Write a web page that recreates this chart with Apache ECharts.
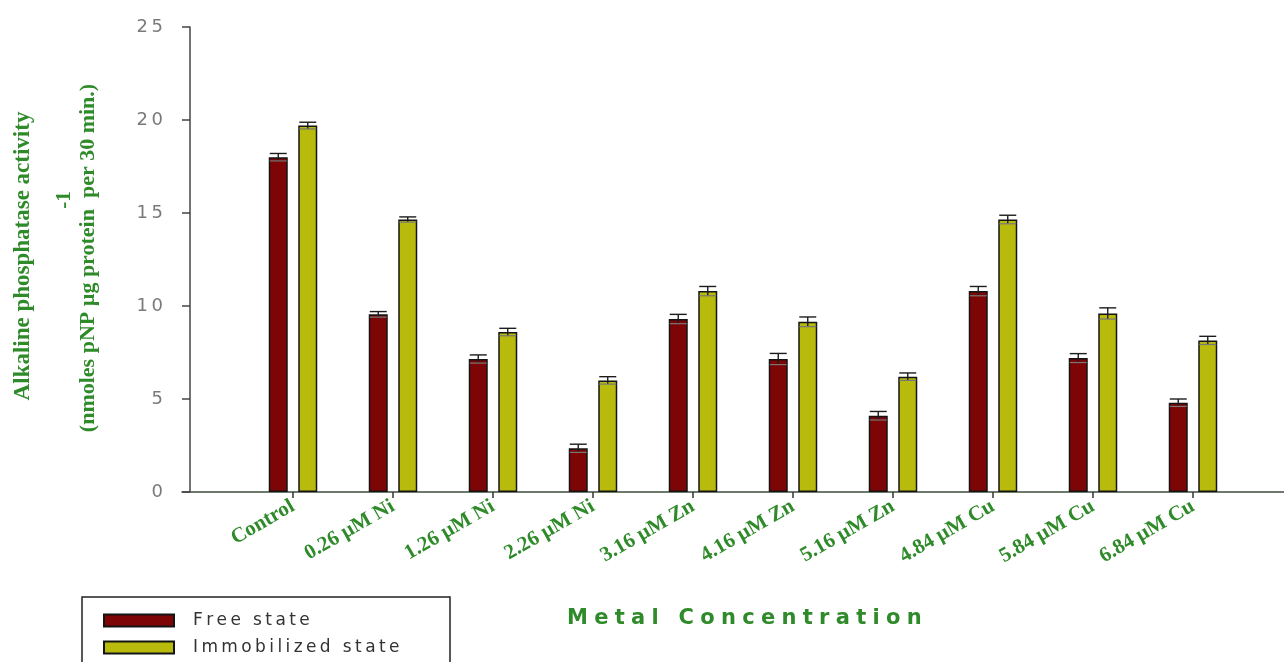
<!DOCTYPE html>
<html>
<head>
<meta charset="utf-8">
<script src="https://cdn.jsdelivr.net/npm/echarts@6/dist/echarts.min.js"></script>
<style>
  html, body { margin: 0; padding: 0; background: #ffffff; }
  #chart { width: 1284px; height: 662px; }
</style>
</head>
<body>
<div id="chart"></div>
<script>
// Treatments along the x axis
const categories = ['Control', '0.26 µM Ni', '1.26 µM Ni', '2.26 µM Ni', '3.16 µM Zn',
  '4.16 µM Zn', '5.16 µM Zn', '4.84 µM Cu', '5.84 µM Cu', '6.84 µM Cu'];

// Alkaline phosphatase activity, mean values
const freeState = [18.0, 9.55, 7.15, 2.35, 9.3, 7.15, 4.1, 10.8, 7.2, 4.8];
const immobilizedState = [19.7, 14.65, 8.6, 6.0, 10.8, 9.15, 6.2, 14.65, 9.6, 8.15];

// Error (± half range of each error bar)
const freeErr = [0.2, 0.15, 0.22, 0.22, 0.25, 0.3, 0.23, 0.25, 0.24, 0.2];
const immobilizedErr = [0.18, 0.14, 0.2, 0.2, 0.25, 0.26, 0.2, 0.23, 0.3, 0.22];

// Y axis ticks
const yTicks = [0, 5, 10, 15, 20, 25];

const seriesNames = ['Free state', 'Immobilized state'];

const BAR_W = 19;
const BAR_GAP_PX = 10.5;
const GREEN = '#2f8a2a';
const spaced = (s, sep) => s.split('').join(sep);

const chart = echarts.init(document.getElementById('chart'), null, { renderer: 'canvas' });

function errorSeries(means, errs, side) {
  const offset = side * (BAR_W + BAR_GAP_PX) / 2;
  return {
    type: 'custom',
    xAxisIndex: 1,
    yAxisIndex: 1,
    silent: true,
    z: 5,
    data: means.map((m, i) => [i, m, errs[i]]),
    encode: { x: 0, y: 1 },
    renderItem: function (params, api) {
      const i = api.value(0), m = api.value(1), e = api.value(2);
      const hi = api.coord([i, m + e]);
      const lo = api.coord([i, m - e]);
      const x = hi[0] + offset;
      const cap = 8.5;
      const st = { stroke: '#1c1c1c', lineWidth: 1.4 };
      return {
        type: 'group',
        children: [
          { type: 'line', shape: { x1: x, y1: hi[1], x2: x, y2: lo[1] }, style: st },
          { type: 'line', shape: { x1: x - cap, y1: hi[1], x2: x + cap, y2: hi[1] }, style: st },
          { type: 'line', shape: { x1: x - cap, y1: lo[1], x2: x + cap, y2: lo[1] }, style: { stroke: '#777', lineWidth: 1.2 } }
        ]
      };
    }
  };
}

const option = {
  backgroundColor: '#ffffff',
  animation: false,
  grid: [
    { left: 182, right: 0, top: 27, bottom: 170 },
    { left: 243, width: 1000, top: 27, bottom: 170 }
  ],
  xAxis: [
    {
      type: 'value', gridIndex: 0, min: 0, max: 1,
      axisLine: { show: true, lineStyle: { color: '#3d4d3d', width: 1.5 } },
      axisTick: { show: false }, axisLabel: { show: false }, splitLine: { show: false }
    },
    {
      type: 'category', gridIndex: 1, data: categories,
      axisLine: { show: false },
      axisTick: { show: true, alignWithLabel: true, length: 6, lineStyle: { color: '#333', width: 1.5 } },
      axisLabel: {
        rotate: 30, margin: 13, interval: 0,
        fontFamily: 'Liberation Serif', fontWeight: 'bold', fontSize: 21, color: GREEN
      },
      splitLine: { show: false }
    }
  ],
  yAxis: [
    {
      type: 'value', gridIndex: 0, offset: -8,
      min: yTicks[0], max: yTicks[yTicks.length - 1], interval: 5,
      axisLine: { show: true, lineStyle: { color: '#444', width: 1.5 } },
      axisTick: { show: true, length: 8, lineStyle: { color: '#444', width: 1.5 } },
      axisLabel: {
        margin: 27, fontFamily: 'DejaVu Sans', fontSize: 18, color: '#7a7a7a',
        formatter: v => spaced(String(v), '\u2009')
      },
      splitLine: { show: false }
    },
    {
      type: 'value', gridIndex: 1, min: yTicks[0], max: yTicks[yTicks.length - 1], show: false
    }
  ],
  legend: {
    data: seriesNames,
    orient: 'vertical',
    left: 103, top: 612, height: 90,
    padding: 0,
    itemWidth: 70, itemHeight: 12, itemGap: 10,
    icon: 'rect',
    textStyle: { fontFamily: 'DejaVu Sans', fontSize: 17, lineHeight: 14, color: '#333', padding: [0, 0, 0, 14] },
    formatter: name => spaced(name, '\u2009')
  },
  graphic: [
    {
      type: 'rect', silent: true,
      shape: { x: 82, y: 597, width: 368, height: 90 },
      style: { fill: 'none', stroke: '#222', lineWidth: 1.5 }
    },
    {
      type: 'text', silent: true,
      x: 23, y: 256, rotation: Math.PI / 2,
      style: {
        text: 'Alkaline phosphatase activity', fill: GREEN,
        font: 'bold 23px "Liberation Serif"', align: 'center', verticalAlign: 'middle'
      }
    },
    {
      type: 'text', silent: true,
      x: 88, y: 258, rotation: Math.PI / 2,
      style: {
        text: '(nmoles pNP µg protein  per 30 min.)', fill: GREEN,
        font: 'bold 22px "Liberation Serif"', align: 'center', verticalAlign: 'middle'
      }
    },
    {
      type: 'text', silent: true,
      x: 65, y: 200, rotation: Math.PI / 2,
      style: {
        text: '-1', fill: GREEN,
        font: 'bold 21px "Liberation Serif"', align: 'center', verticalAlign: 'middle'
      }
    },
    {
      type: 'text', silent: true,
      x: 567, y: 619,
      style: {
        text: spaced('Metal Concentration', '\u2009\u200A'), fill: GREEN,
        font: 'bold 21px "DejaVu Sans"', align: 'left', verticalAlign: 'middle'
      }
    }
  ],
  series: [
    {
      name: seriesNames[0], type: 'bar', xAxisIndex: 1, yAxisIndex: 1,
      data: freeState, barWidth: BAR_W, barGap: (BAR_GAP_PX / BAR_W * 100) + '%',
      itemStyle: { color: '#7d0505', borderColor: '#141414', borderWidth: 1.5 }
    },
    {
      name: seriesNames[1], type: 'bar', xAxisIndex: 1, yAxisIndex: 1,
      data: immobilizedState, barWidth: BAR_W,
      itemStyle: { color: '#b8ba0c', borderColor: '#141414', borderWidth: 1.5 }
    },
    errorSeries(freeState, freeErr, -1),
    errorSeries(immobilizedState, immobilizedErr, 1)
  ]
};

chart.setOption(option);
</script>
</body>
</html>
